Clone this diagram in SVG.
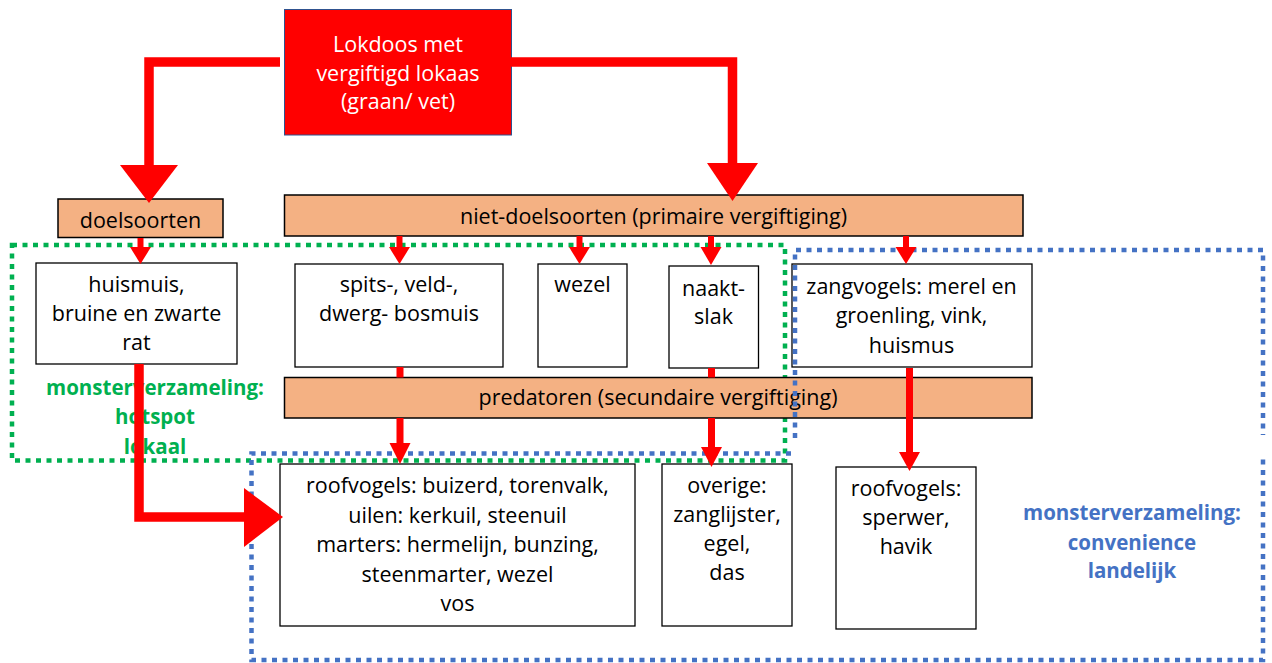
<svg xmlns="http://www.w3.org/2000/svg" width="1272" height="663" viewBox="0 0 1272 663">
<style>
  text { font-family: "Open Sans", "Liberation Sans", sans-serif; font-size: 21.5px; text-anchor: middle; fill: #000; }
  .w { fill: #fff; }
  .lbl { font-weight: bold; font-size: 20.5px; }
  .g { fill: #00B050; }
  .b { fill: #4472C4; }
  .box { fill: #fff; stroke: #000; stroke-width: 1.3; }
  .obox { fill: #F4B183; stroke: #000; stroke-width: 1.5; }
  .dot { fill: none; stroke-width: 4.5; stroke-dasharray: 5 5.5; }
  .stem { fill: none; stroke: #FF0000; }
  .head { fill: #FF0000; }
</style>
<rect width="1272" height="663" fill="#fff"/>

<g id="zone-hotspot">
  <rect class="dot" x="12" y="245" width="773" height="215.5" stroke="#00B050"/>
  <text class="lbl g" x="155" y="395">monsterverzameling:</text>
  <text class="lbl g" x="155" y="424">hotspot</text>
  <text class="lbl g" x="155" y="454">lokaal</text>
</g>

<g id="lokdoos">
  <rect x="284.5" y="9.5" width="227" height="125.5" fill="#FF0000" stroke="#2F528F" stroke-width="1"/>
  <text class="w" x="398" y="52">Lokdoos met</text>
  <text class="w" x="398" y="80.5">vergiftigd lokaas</text>
  <text class="w" x="398" y="109">(graan/ vet)</text>
</g>

<g id="doelsoorten">
  <rect class="obox" x="58" y="199" width="165" height="38.5"/>
  <text x="140.5" y="227.5">doelsoorten</text>
</g>

<g id="niet-doelsoorten">
  <rect class="obox" x="284.5" y="195" width="738.5" height="41"/>
  <text x="653.5" y="223.5">niet-doelsoorten (primaire vergiftiging)</text>
</g>

<g id="huismuis">
  <rect class="box" x="36" y="263" width="201" height="101"/>
  <text x="136.5" y="292">huismuis,</text>
  <text x="136.5" y="321">bruine en zwarte</text>
  <text x="136.5" y="350">rat</text>
</g>

<g id="spitsmuis">
  <rect class="box" x="295" y="264" width="208" height="103"/>
  <text x="399" y="292">spits-, veld-,</text>
  <text x="399" y="321">dwerg- bosmuis</text>
</g>

<g id="wezel">
  <rect class="box" x="538" y="264" width="89" height="103"/>
  <text x="582.5" y="292">wezel</text>
</g>

<g id="naaktslak">
  <rect class="box" x="669" y="266" width="89.5" height="102"/>
  <text x="713.5" y="296">naakt-</text>
  <text x="713.5" y="324">slak</text>
</g>

<g id="zangvogels">
  <rect class="box" x="792" y="264" width="240" height="103"/>
  <text x="911.5" y="294">zangvogels: merel en</text>
  <text x="911.5" y="323">groenling, vink,</text>
  <text x="911.5" y="353">huismus</text>
</g>

<g id="predatoren">
  <rect class="obox" x="284.5" y="377.5" width="747.5" height="40.5"/>
  <text x="658" y="405">predatoren (secundaire vergiftiging)</text>
</g>

<g id="roofvogels-marters">
  <rect class="box" x="280" y="464" width="355" height="162"/>
  <text x="457.5" y="493">roofvogels: buizerd, torenvalk,</text>
  <text x="457.5" y="522.5">uilen: kerkuil, steenuil</text>
  <text x="457.5" y="552">marters: hermelijn, bunzing,</text>
  <text x="457.5" y="581.5">steenmarter, wezel</text>
  <text x="457.5" y="611">vos</text>
</g>

<g id="overige">
  <rect class="box" x="662" y="464" width="130" height="162"/>
  <text x="727" y="493">overige:</text>
  <text x="727" y="522">zanglijster,</text>
  <text x="727" y="551">egel,</text>
  <text x="727" y="580">das</text>
</g>

<g id="roofvogels-sperwer">
  <rect class="box" x="836" y="467" width="140" height="162"/>
  <text x="906" y="496">roofvogels:</text>
  <text x="906" y="525">sperwer,</text>
  <text x="906" y="554">havik</text>
</g>

<g id="zone-convenience">
  <path class="dot" d="M795,438 V250 H1263 V435" stroke="#4472C4"/>
  <path class="dot" d="M791,453.5 H251.5 V660 H1263 V456" stroke="#4472C4"/>
  <text class="lbl b" x="1132" y="520">monsterverzameling:</text>
  <text class="lbl b" x="1132" y="549.5">convenience</text>
  <text class="lbl b" x="1132" y="578">landelijk</text>
</g>

<g id="connectors">
  <path class="stem" stroke-width="9.5" d="M280,62 H149 V166"/>
  <polygon class="head" points="120,165 178,165 149,203"/>
  <path class="stem" stroke-width="9.5" d="M511,62 H732.5 V164"/>
  <polygon class="head" points="707,163 758,163 732.5,201"/>

  <path class="stem" stroke-width="6" d="M140.5,238 V248"/>
  <polygon class="head" points="130,247 151,247 140.5,264"/>
  <path class="stem" stroke-width="6" d="M399.5,236 V248"/>
  <polygon class="head" points="389,247 410,247 399.5,264"/>
  <path class="stem" stroke-width="6" d="M579.5,236 V248"/>
  <polygon class="head" points="569,247 590,247 579.5,264"/>
  <path class="stem" stroke-width="6" d="M711,236 V248"/>
  <polygon class="head" points="700.5,247 721.5,247 711,265"/>
  <path class="stem" stroke-width="6" d="M906,236 V248"/>
  <polygon class="head" points="895.5,247 916.5,247 906,264"/>

  <path class="stem" stroke-width="9.5" d="M139,364 V517 H246"/>
  <polygon class="head" points="244,488 244,547 283,517"/>

  <path class="stem" stroke-width="7" d="M400,367 V377.5 M400,418 V444"/>
  <polygon class="head" points="389.5,443 410.5,443 400,464"/>
  <path class="stem" stroke-width="7" d="M711.5,368 V377.5 M711.5,418 V448"/>
  <polygon class="head" points="701,447 722,447 711.5,467"/>
  <path class="stem" stroke-width="7" d="M909.5,368 V453"/>
  <polygon class="head" points="899,452 920,452 909.5,471"/>
</g>
</svg>
